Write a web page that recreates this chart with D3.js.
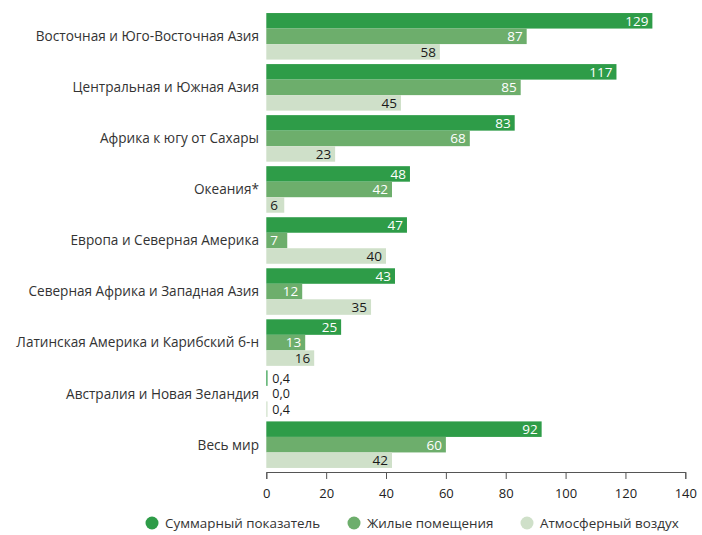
<!DOCTYPE html>
<html>
<head>
<meta charset="utf-8">
<script src="https://cdn.jsdelivr.net/npm/d3@7"></script>
<style>
  body { margin: 0; background: #fff; }
  svg { font-family: "Open Sans", sans-serif; }
</style>
</head>
<body>
<svg id="chart" width="702" height="535"></svg>
<script>
// regions, top to bottom
const regions = [
  "Восточная и Юго-Восточная Азия",
  "Центральная и Южная Азия",
  "Африка к югу от Сахары",
  "Океания*",
  "Европа и Северная Америка",
  "Северная Африка и Западная Азия",
  "Латинская Америка и Карибский б-н",
  "Австралия и Новая Зеландия",
  "Весь мир"
];
const seriesNames = ["Суммарный показатель", "Жилые помещения", "Атмосферный воздух"];
const totalValues = [129, 117, 83, 48, 47, 43, 25, 0.4, 92];
const householdValues = [87, 85, 68, 42, 7, 12, 13, 0.0, 60];
const ambientValues = [58, 45, 23, 6, 40, 35, 16, 0.4, 42];
const xTicks = [0, 20, 40, 60, 80, 100, 120, 140];

const colors = ["#2e9c48", "#6dae6c", "#cfe0c9"];
const labelColors = ["#fff", "#fff", "#1a1a1a"];
const seriesValues = [totalValues, householdValues, ambientValues];

const svg = d3.select("#chart");

const x = d3.scaleLinear().domain([0, 140]).range([266.3, 685.3]);

const y = d3.scaleBand()
  .domain(regions)
  .range([10.8, 470.2])
  .paddingInner(0.088)
  .paddingOuter(0.044);

const ySub = d3.scaleBand()
  .domain(d3.range(3))
  .range([0, y.bandwidth()]);

const fmt = v => v < 1 ? v.toFixed(1).replace(".", ",") : String(v);

// bars
regions.forEach((r, i) => {
  const g = svg.append("g").attr("transform", `translate(0,${y(r)})`);
  seriesValues.forEach((vals, s) => {
    const v = vals[i];
    g.append("rect")
      .attr("x", x(0))
      .attr("y", ySub(s))
      .attr("width", x(v) - x(0))
      .attr("height", ySub.bandwidth())
      .attr("fill", colors[s]);

    const small = v < 10;
    const isZeroish = v < 1;
    g.append("text")
      .attr("x", small ? x(0) + (isZeroish ? 6 : 4) : x(v) - 4)
      .attr("y", ySub(s) + ySub.bandwidth() / 2)
      .attr("dy", "0.36em")
      .attr("text-anchor", small ? "start" : "end")
      .attr("fill", isZeroish ? "#1a1a1a" : labelColors[s])
      .style("font-size", isZeroish ? "12.5px" : "13.5px")
      .text(fmt(v));
  });
});

// category labels
svg.append("g")
  .selectAll("text")
  .data(regions)
  .join("text")
  .attr("x", 259)
  .attr("y", d => y(d) + y.bandwidth() / 2)
  .attr("dy", "0.36em")
  .attr("text-anchor", "end")
  .attr("fill", "#333")
  .style("font-size", "13.6px")
  .text(d => d);

// x axis
const axis = svg.append("g")
  .attr("transform", "translate(0,472)")
  .call(d3.axisBottom(x).tickValues(xTicks).tickSize(7).tickPadding(10));
axis.select(".domain").attr("stroke", "#555");
axis.selectAll(".tick line").attr("stroke", "#555");
axis.selectAll(".tick text")
  .attr("fill", "#222")
  .style("font-family", "'Open Sans', sans-serif")
  .style("font-size", "13px");

// legend
const legendX = [152, 354, 527];
const legend = svg.append("g")
  .selectAll("g")
  .data(seriesNames)
  .join("g")
  .attr("transform", (d, i) => `translate(${legendX[i]},523)`);
legend.append("circle").attr("r", 6.5).attr("fill", (d, i) => colors[i]);
legend.append("text")
  .attr("x", 13)
  .attr("dy", "0.36em")
  .attr("fill", "#333")
  .style("font-size", "13.4px")
  .text(d => d);
</script>
</body>
</html>
